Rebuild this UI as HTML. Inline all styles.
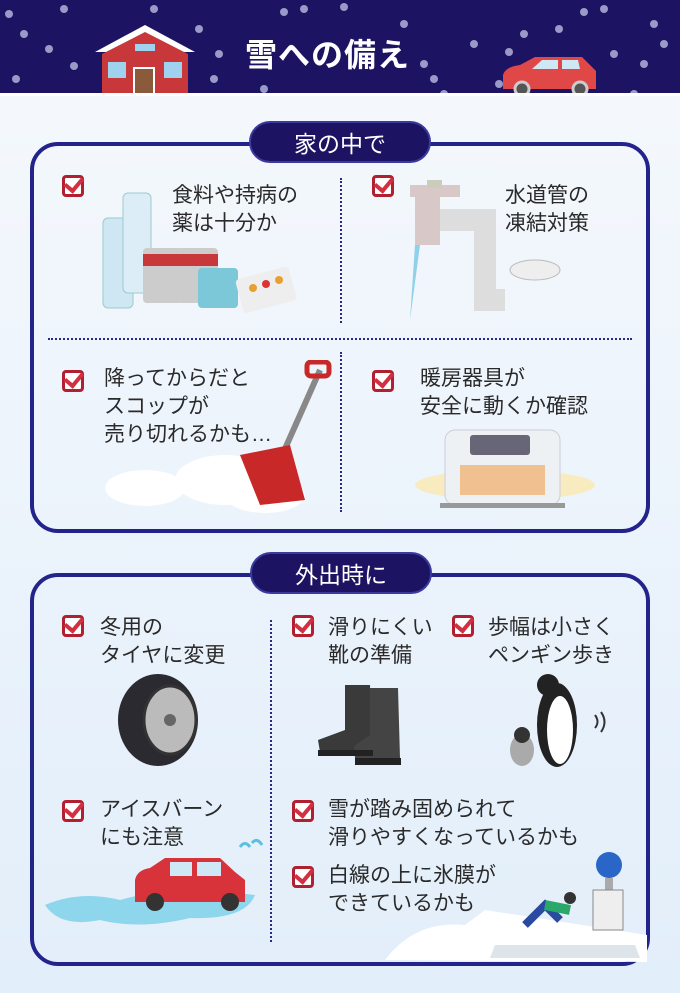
<!DOCTYPE html>
<html><head><meta charset="utf-8"><style>
*{margin:0;padding:0;box-sizing:border-box}
body{width:680px;height:993px;overflow:hidden;font-family:"Liberation Sans","Noto Sans CJK JP",sans-serif;background:linear-gradient(#f6f9fd,#e2eefa);position:relative;color:#333}
.hdr{position:absolute;left:0;top:0;width:680px;height:96px;background:#1c1462;border-bottom:3px solid #fff;overflow:hidden}
.title{position:absolute;left:245px;top:30px;color:#fff;font-size:32px;font-weight:bold;letter-spacing:1px}
.panel{position:absolute;left:30px;width:620px;border:4px solid #23238c;border-radius:28px}
.tab{position:absolute;height:42px;background:#1c1462;color:#fff;border-radius:21px;font-size:23px;text-align:center;line-height:42px;border:2px solid #3a3aa0}
.t{position:absolute;font-size:21px;line-height:28px;color:#2a2a2a;white-space:nowrap}
.cb{position:absolute;width:22px;height:22px;border:3px solid #b02030;border-radius:4px;background:#fff}
.cb:after{content:"";position:absolute;left:3px;top:-4px;width:8px;height:14px;border:solid #d23040;border-width:0 4px 4px 0;transform:rotate(40deg)}
.vd{position:absolute;border-left:2px dotted #2a2a80}
.hd{position:absolute;border-top:2px dotted #2a2a80}
.dot{position:absolute;border-radius:50%;background:#9a9ac8;width:8px;height:8px}
</style></head><body>
<div class="hdr">
<div class="dot" style="left:20px;top:30px"></div><div class="dot" style="left:70px;top:62px"></div><div class="dot" style="left:215px;top:50px"></div><div class="dot" style="left:430px;top:75px"></div><div class="dot" style="left:470px;top:40px"></div><div class="dot" style="left:520px;top:30px"></div><div class="dot" style="left:610px;top:50px"></div><div class="dot" style="left:650px;top:20px"></div><div class="dot" style="left:280px;top:8px"></div><div class="dot" style="left:580px;top:8px"></div>
<div class="dot" style="left:12px;top:75px"></div><div class="dot" style="left:45px;top:45px"></div><div class="dot" style="left:60px;top:5px"></div><div class="dot" style="left:5px;top:10px"></div><div class="dot" style="left:210px;top:75px"></div><div class="dot" style="left:260px;top:85px"></div><div class="dot" style="left:300px;top:5px"></div><div class="dot" style="left:340px;top:3px"></div><div class="dot" style="left:420px;top:60px"></div><div class="dot" style="left:440px;top:90px"></div><div class="dot" style="left:495px;top:80px"></div><div class="dot" style="left:555px;top:25px"></div><div class="dot" style="left:600px;top:5px"></div><div class="dot" style="left:640px;top:60px"></div><div class="dot" style="left:660px;top:40px"></div><div class="dot" style="left:150px;top:5px"></div><div class="dot" style="left:195px;top:25px"></div><div class="dot" style="left:400px;top:20px"></div><div class="dot" style="left:505px;top:48px"></div><div class="dot" style="left:630px;top:90px"></div>
<svg style="position:absolute;left:90px;top:22px" width="110" height="76"><polygon points="5,30 55,3 105,30" fill="#fff"/><polygon points="12,32 55,10 98,32" fill="#c8383a"/><rect x="12" y="32" width="86" height="40" fill="#c8383a"/><rect x="18" y="40" width="18" height="16" fill="#9fd2ef"/><rect x="74" y="40" width="18" height="16" fill="#9fd2ef"/><rect x="44" y="46" width="20" height="26" fill="#8a5a3a" stroke="#fff" stroke-width="2"/><rect x="45" y="22" width="20" height="7" fill="#9fd2ef"/><rect x="10" y="72" width="90" height="4" fill="#ddd"/></svg>
<svg style="position:absolute;left:500px;top:55px" width="100" height="42"><path d="M3,20 Q5,12 20,10 L35,2 L82,2 L96,16 L96,34 L3,34 Z" fill="#e04848"/><path d="M32,14 L42,5 L58,5 L58,14Z M62,5 L78,5 L80,14 L62,14Z" fill="#cfe8f5"/><circle cx="22" cy="34" r="7" fill="#555" stroke="#ccc" stroke-width="3"/><circle cx="80" cy="34" r="7" fill="#555" stroke="#ccc" stroke-width="3"/></svg>
<div class="title">雪への備え</div>
</div>

<div class="panel" style="top:142px;height:391px"></div>
<div class="tab" style="left:249px;top:121px;width:182px">家の中で</div>
<div class="vd" style="left:340px;top:178px;height:145px"></div>
<div class="hd" style="left:48px;top:338px;width:584px"></div>
<div class="vd" style="left:340px;top:352px;height:160px"></div>

<div class="cb" style="left:62px;top:175px"></div><div class="t" style="left:172px;top:182px">食料や持病の<br>薬は十分か</div>
<svg style="position:absolute;left:98px;top:188px" width="200" height="125"><rect x="5" y="30" width="30" height="90" rx="5" fill="#cfe6f3" stroke="#9cc" /><rect x="25" y="5" width="28" height="100" rx="5" fill="#dcedf7" stroke="#9cc"/><rect x="45" y="60" width="40" height="55" rx="4" fill="#ccc"/><rect x="45" y="66" width="40" height="12" fill="#c8383a"/><rect x="80" y="60" width="40" height="55" rx="4" fill="#ccc"/><rect x="80" y="66" width="40" height="12" fill="#c8383a"/><rect x="100" y="80" width="40" height="40" rx="4" fill="#7cc7d8"/><rect x="140" y="85" width="55" height="35" rx="4" fill="#eee" transform="rotate(-15 165 100)"/><circle cx="155" cy="100" r="4" fill="#e8a030"/><circle cx="168" cy="96" r="4" fill="#d33"/><circle cx="181" cy="92" r="4" fill="#e8a030"/></svg>

<div class="cb" style="left:372px;top:175px"></div><div class="t" style="left:505px;top:182px">水道管の<br>凍結対策</div>
<svg style="position:absolute;left:405px;top:180px" width="160" height="145"><rect x="5" y="5" width="50" height="12" fill="#d8c8c8"/><rect x="22" y="0" width="15" height="8" fill="#ccb"/><rect x="10" y="15" width="25" height="50" fill="#d8c8c8"/><path d="M35,40 L80,40 L80,120 L100,120" stroke="#ddd" stroke-width="22" fill="none"/><path d="M10,65 L5,140 L15,65Z" fill="#8fd0ea"/><ellipse cx="130" cy="90" rx="25" ry="10" fill="#eee" stroke="#bbb"/></svg>

<div class="cb" style="left:62px;top:370px"></div><div class="t" style="left:104px;top:365px">降ってからだと<br>スコップが<br>売り切れるかも…</div>
<svg style="position:absolute;left:105px;top:360px" width="230" height="160"><ellipse cx="40" cy="128" rx="40" ry="18" fill="#fff"/><ellipse cx="120" cy="120" rx="50" ry="25" fill="#fff"/><ellipse cx="160" cy="135" rx="40" ry="18" fill="#fff"/><line x1="215" y1="10" x2="175" y2="100" stroke="#888" stroke-width="6"/><rect x="202" y="2" width="22" height="14" rx="4" fill="none" stroke="#c82828" stroke-width="5"/><polygon points="135,95 185,85 200,140 155,145" fill="#c82828"/></svg>

<div class="cb" style="left:372px;top:370px"></div><div class="t" style="left:420px;top:365px">暖房器具が<br>安全に動くか確認</div>
<svg style="position:absolute;left:410px;top:425px" width="190" height="90"><ellipse cx="95" cy="60" rx="90" ry="15" fill="#fde8b0" opacity=".8"/><rect x="35" y="5" width="115" height="75" rx="10" fill="#eef1f4" stroke="#ccd"/><rect x="60" y="10" width="60" height="20" rx="3" fill="#667"/><rect x="50" y="40" width="85" height="30" fill="#f0c090"/><rect x="30" y="78" width="125" height="5" fill="#999"/></svg>

<div class="panel" style="top:573px;height:393px"></div>
<div class="tab" style="left:250px;top:552px;width:182px">外出時に</div>
<div class="vd" style="left:270px;top:620px;height:322px"></div>

<div class="cb" style="left:62px;top:615px"></div><div class="t" style="left:100px;top:614px">冬用の<br>タイヤに変更</div>
<svg style="position:absolute;left:110px;top:670px" width="100" height="100"><ellipse cx="48" cy="50" rx="40" ry="46" fill="#2a2a30"/><ellipse cx="60" cy="50" rx="26" ry="34" fill="#bbb" stroke="#333" stroke-width="3"/><circle cx="60" cy="50" r="6" fill="#666"/></svg>

<div class="cb" style="left:292px;top:615px"></div><div class="t" style="left:328px;top:614px">滑りにくい<br>靴の準備</div>
<svg style="position:absolute;left:310px;top:680px" width="100" height="90"><path d="M35,5 L60,5 L62,70 L10,72 L8,60 L35,50Z" fill="#3a3a3a"/><path d="M60,8 L88,8 L90,78 L45,78 L44,66 L60,55Z" fill="#444"/><rect x="8" y="70" width="55" height="6" fill="#222"/><rect x="45" y="78" width="46" height="7" fill="#222"/></svg>

<div class="cb" style="left:452px;top:615px"></div><div class="t" style="left:488px;top:614px">歩幅は小さく<br>ペンギン歩き</div>
<svg style="position:absolute;left:500px;top:670px" width="110" height="100"><ellipse cx="57" cy="55" rx="20" ry="42" fill="#222"/><ellipse cx="60" cy="60" rx="13" ry="34" fill="#fff"/><circle cx="48" cy="15" r="11" fill="#222"/><ellipse cx="22" cy="80" rx="12" ry="16" fill="#aaa"/><circle cx="22" cy="65" r="8" fill="#333"/><path d="M95,45 Q100,52 95,58 M101,42 Q108,52 101,62" stroke="#333" stroke-width="2" fill="none"/></svg>

<div class="cb" style="left:62px;top:800px"></div><div class="t" style="left:100px;top:796px">アイスバーン<br>にも注意</div>
<svg style="position:absolute;left:40px;top:835px" width="225" height="95"><path d="M5,70 Q40,55 80,65 Q130,50 215,60 Q205,85 150,83 Q100,95 60,85 Q20,93 5,70Z" fill="#8ed6ec"/><path d="M95,45 Q97,35 110,33 L125,23 L180,23 L195,37 L205,45 L205,67 L95,67Z" fill="#d8323a"/><rect x="130" y="27" width="22" height="14" fill="#cfe8f5"/><rect x="157" y="27" width="24" height="14" fill="#cfe8f5"/><circle cx="115" cy="67" r="9" fill="#333"/><circle cx="190" cy="67" r="9" fill="#333"/><path d="M200,12 Q205,5 210,12 M212,8 Q217,2 222,10" stroke="#5bc0e0" stroke-width="3" fill="none"/></svg>

<div class="cb" style="left:292px;top:800px"></div><div class="t" style="left:328px;top:796px">雪が踏み固められて<br>滑りやすくなっているかも</div>
<div class="cb" style="left:292px;top:866px"></div><div class="t" style="left:328px;top:862px">白線の上に氷膜が<br>できているかも</div>
<svg style="position:absolute;left:385px;top:850px" width="262" height="112"><path d="M0,110 Q30,70 80,75 L100,60 L262,85 L262,112Z" fill="#fff"/><path d="M110,95 L250,95 L255,108 L105,108Z" fill="#dde4ea"/><circle cx="224" cy="15" r="13" fill="#2a66c8"/><rect x="220" y="28" width="8" height="20" fill="#aaa"/><rect x="208" y="40" width="30" height="40" fill="#eee" stroke="#888"/><path d="M140,75 L160,55 L175,70" stroke="#2a4aa0" stroke-width="8" fill="none"/><circle cx="185" cy="48" r="6" fill="#333"/><path d="M160,55 L185,60" stroke="#29a86a" stroke-width="10"/></svg>
</body></html>
